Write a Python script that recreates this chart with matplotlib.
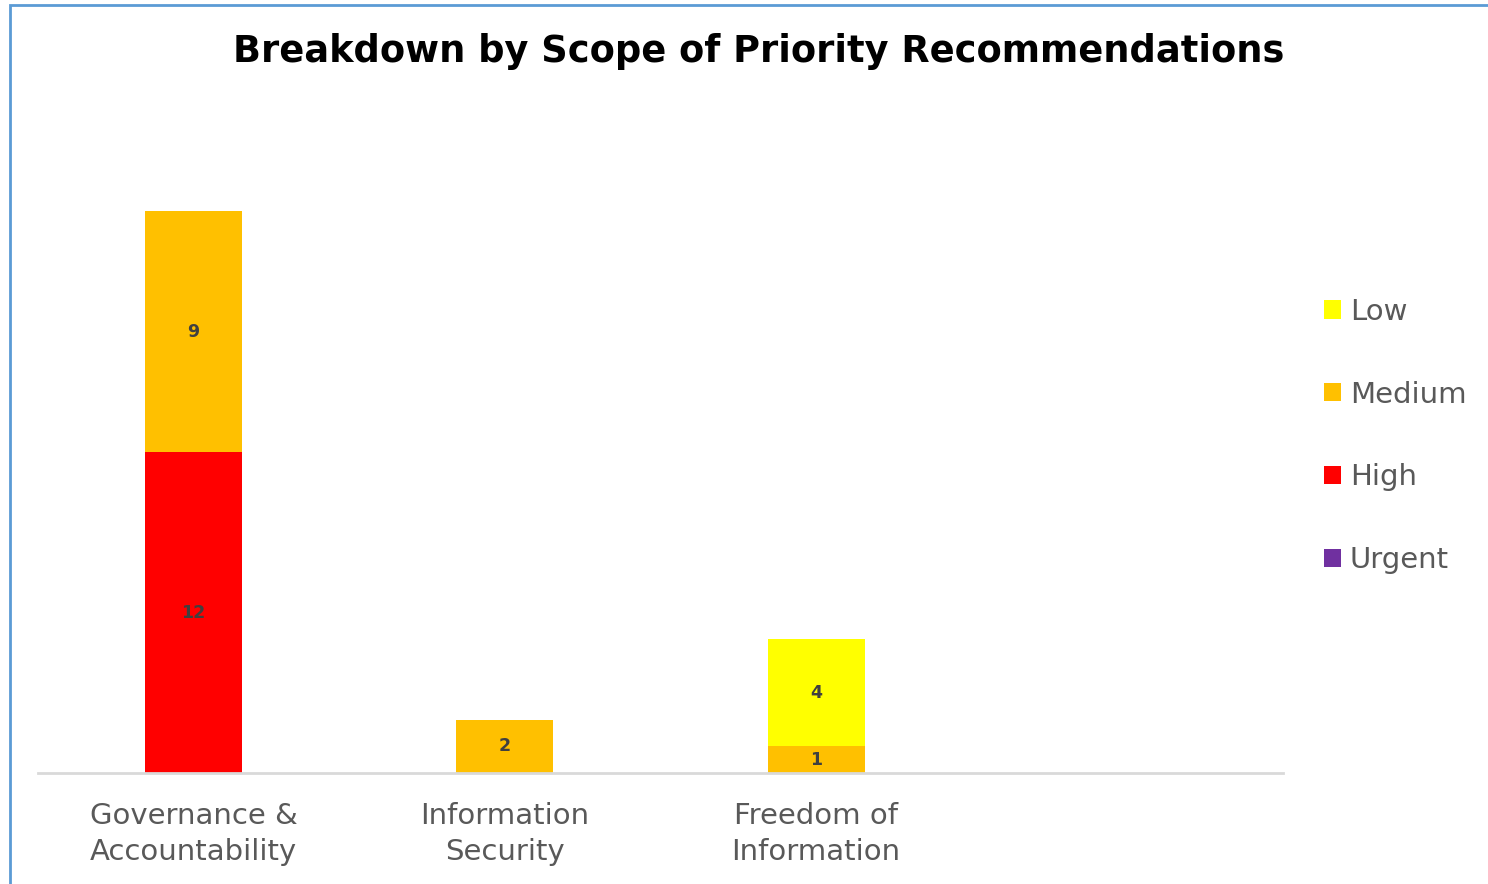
import matplotlib
matplotlib.use("Agg")
import matplotlib.pyplot as plt
from matplotlib.patches import Rectangle
import numpy as np

categories = ["Governance &\nAccountability", "Information\nSecurity", "Freedom of\nInformation", ""]
series_names = ["Urgent", "High", "Medium", "Low"]
urgent = [0, 0, 0, 0]
high = [12, 0, 0, 0]
medium = [9, 2, 1, 0]
low = [0, 0, 4, 0]
colors = {"Urgent": "#7030A0", "High": "#FF0000", "Medium": "#FFC000", "Low": "#FFFF00"}

W, H = 1488, 884
fig = plt.figure(figsize=(W / 100, H / 100), dpi=100)
fig.patches.append(Rectangle((10 / W, -0.1), 1.2, 1 - 5 / H + 0.1, transform=fig.transFigure,
                             fill=False, edgecolor="#5B9BD5", linewidth=2, zorder=10))

ax = fig.add_axes([38 / W, 1 - 773 / H, (1283 - 38) / W, (773 - 104.25) / H])
x = np.arange(len(categories))
bottom = np.zeros(len(categories))
handles = {}
for name, vals in zip(series_names, [urgent, high, medium, low]):
    vals = np.array(vals, dtype=float)
    bars = ax.bar(x, vals, width=0.312, bottom=bottom, color=colors[name], label=name, zorder=2)
    handles[name] = bars
    for xi, v, b in zip(x, vals, bottom):
        if v > 0:
            ax.text(xi, b + v / 2, f"{int(v)}", ha="center", va="center", fontsize=12.5,
                    fontweight="bold", color="#404040", zorder=3)
    bottom += vals

ax.set_xlim(-0.5, 3.5)
ax.set_ylim(0, 25)
for s in ["top", "right", "left"]:
    ax.spines[s].set_visible(False)
ax.spines["bottom"].set_color("#D9D9D9")
ax.spines["bottom"].set_linewidth(2)
ax.set_yticks([])
ax.set_xticks(x)
ax.set_xticklabels(categories, fontsize=21, color="#595959", linespacing=1.35)
ax.tick_params(axis="x", length=0, pad=21)

fig.text(759 / W, 1 - 51 / H, "Breakdown by Scope of Priority Recommendations", ha="center", va="center",
         fontsize=26.5, fontweight="bold", color="black")

order = ["Low", "Medium", "High", "Urgent"]
fig.legend([handles[n] for n in order], order, loc="center left", bbox_to_anchor=(1298 / W, 1 - 436 / H),
           frameon=False, fontsize=21, labelcolor="#595959", handlelength=0.58, handleheight=0.58,
           handletextpad=0.3, labelspacing=1.88)

fig.savefig("out.png", dpi=100)
